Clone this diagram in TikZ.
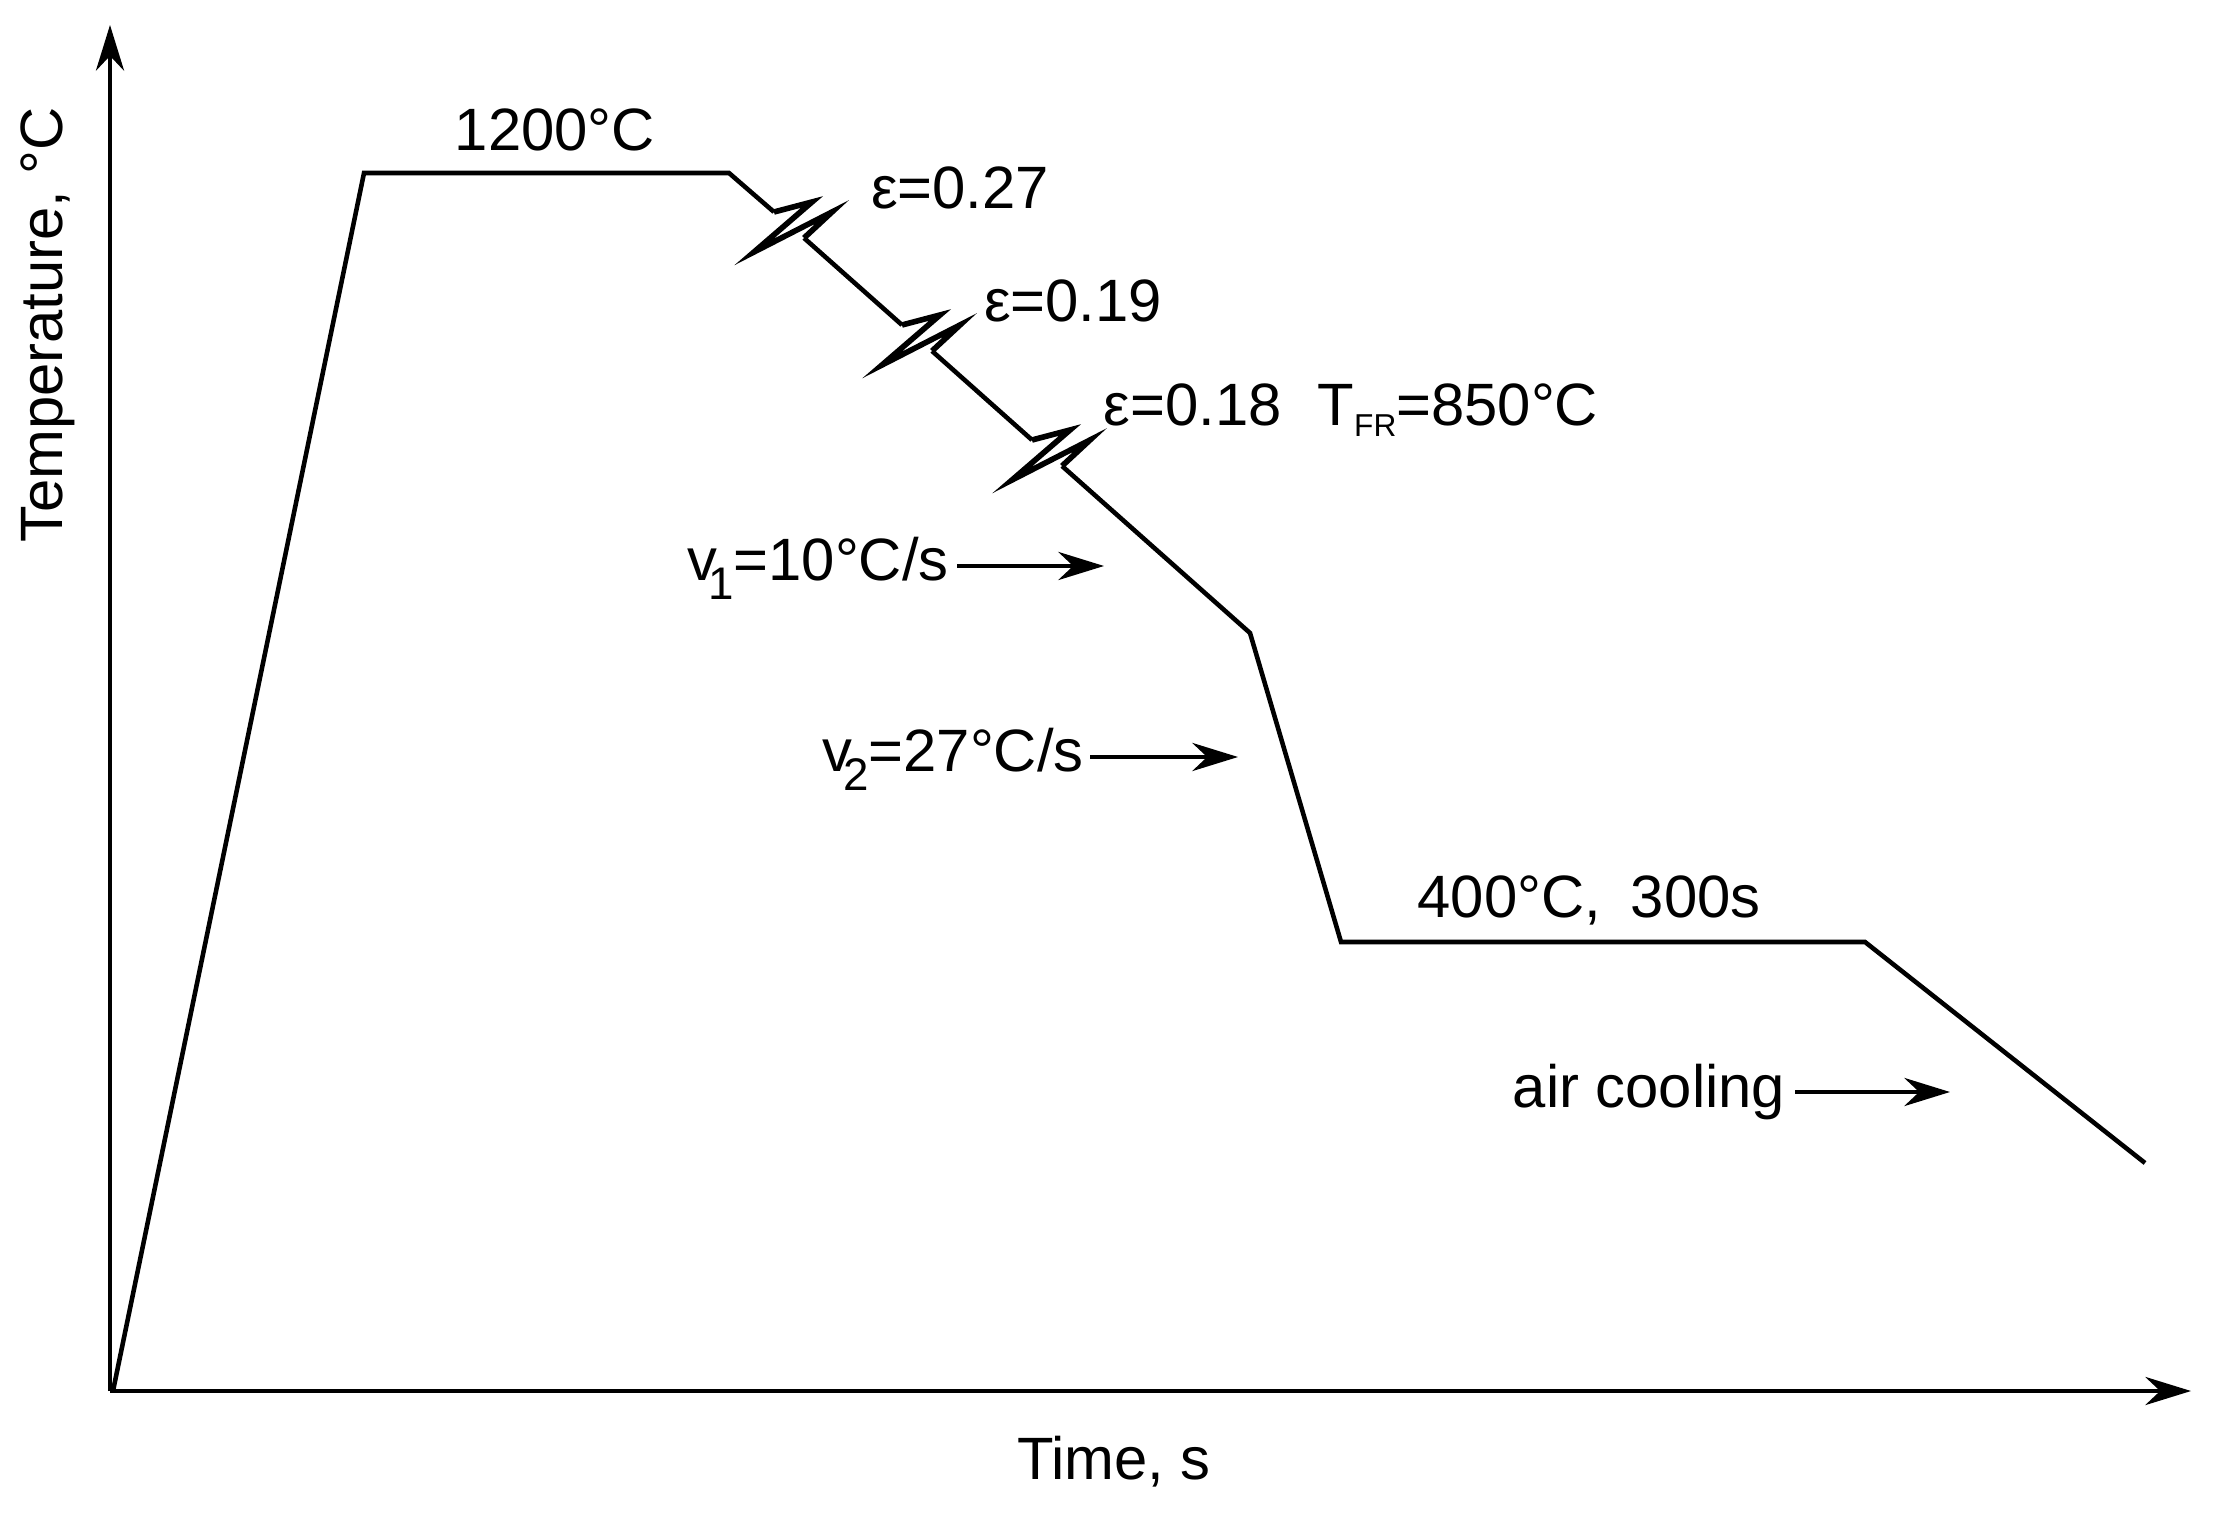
\documentclass[tikz,border=0pt]{standalone}
\usepackage{fontspec}
\setmainfont{Liberation Sans}
\usetikzlibrary{arrows.meta}
\begin{document}
\begin{tikzpicture}[x=0.01cm,y=-0.01cm,
  lbl/.style={font=\fontsize{17}{20}\selectfont,inner sep=1pt},
  ln/.style={line width=1.3pt,line join=miter},
  bolt/.style={line width=1.6pt,line join=miter,miter limit=20},
  arr/.style={line width=1.2pt,-{Stealth[length=13pt,width=8pt]}}]
\useasboundingbox (0,0) rectangle (2219,1513);
% axes
\coordinate (O) at (110,1391);
\coordinate (Ytop) at (110,25);
\coordinate (Xend) at (2191,1391);
\draw[arr] (O) -- (Ytop);
\draw[arr] (O) -- (Xend);
% profile
\coordinate (p0) at (113,1391);
\coordinate (p1) at (364,173);
\coordinate (p2) at (729,173);
\coordinate (p3) at (1250,633);
\coordinate (p4) at (1341,942);
\coordinate (p5) at (1865,942);
\coordinate (p6) at (2145,1163);
\coordinate (z1) at (792,228);
\coordinate (z2) at (920,341);
\coordinate (z3) at (1050,456);
\draw[ln] (p0) -- (p1) -- (p2) -- ([shift={(-18,-16)}]z1);
\foreach \z in {z1,z2,z3}{
  \draw[bolt] ([shift={(-18,-16)}]\z) -- ([shift={(20,-26)}]\z) -- ([shift={(-38,24)}]\z) -- ([shift={(40,-16)}]\z) -- ([shift={(12,10)}]\z);
}
\draw[ln] ([shift={(12,10)}]z1) -- ([shift={(-18,-16)}]z2);
\draw[ln] ([shift={(12,10)}]z2) -- ([shift={(-18,-16)}]z3);
\draw[ln] ([shift={(12,10)}]z3) -- (p3) -- (p4) -- (p5) -- (p6);
% labels
\node[lbl] (t1200) at (555,130) {1200°C};
\node[lbl] (e1) at (960,188) {ε=0.27};
\node[lbl] (e2) at (1073,301) {ε=0.19};
\node[lbl] (e3) at (1351,410) {ε=0.18\hspace{0.6em}T\raisebox{-0.35ex}{\fontsize{9}{10}\selectfont FR}=850°C};
\node[lbl] (v1) at (818,568) {v\raisebox{-0.6ex}{\hspace{-0.15em}\fontsize{13}{14}\selectfont 1}=10°C/s};
\coordinate (a1s) at (957,566); \coordinate (a1e) at (1104,566);
\draw[arr] (a1s) -- (a1e);
\node[lbl] (v2) at (953,759) {v\raisebox{-0.6ex}{\hspace{-0.15em}\fontsize{13}{14}\selectfont 2}=27°C/s};
\coordinate (a2s) at (1090,757); \coordinate (a2e) at (1238,757);
\draw[arr] (a2s) -- (a2e);
\node[lbl] (hold) at (1589,900) {400°C,\hspace{0.5em}300s};
\node[lbl] (air) at (1649,1092) {air cooling};
\coordinate (a3s) at (1795,1092); \coordinate (a3e) at (1950,1092);
\draw[arr] (a3s) -- (a3e);
\node[lbl,rotate=90] (ylab) at (48,325) {Temperature, °C};
\node[lbl] (xlab) at (1114,1462) {Time, s};
\end{tikzpicture}
\end{document}
